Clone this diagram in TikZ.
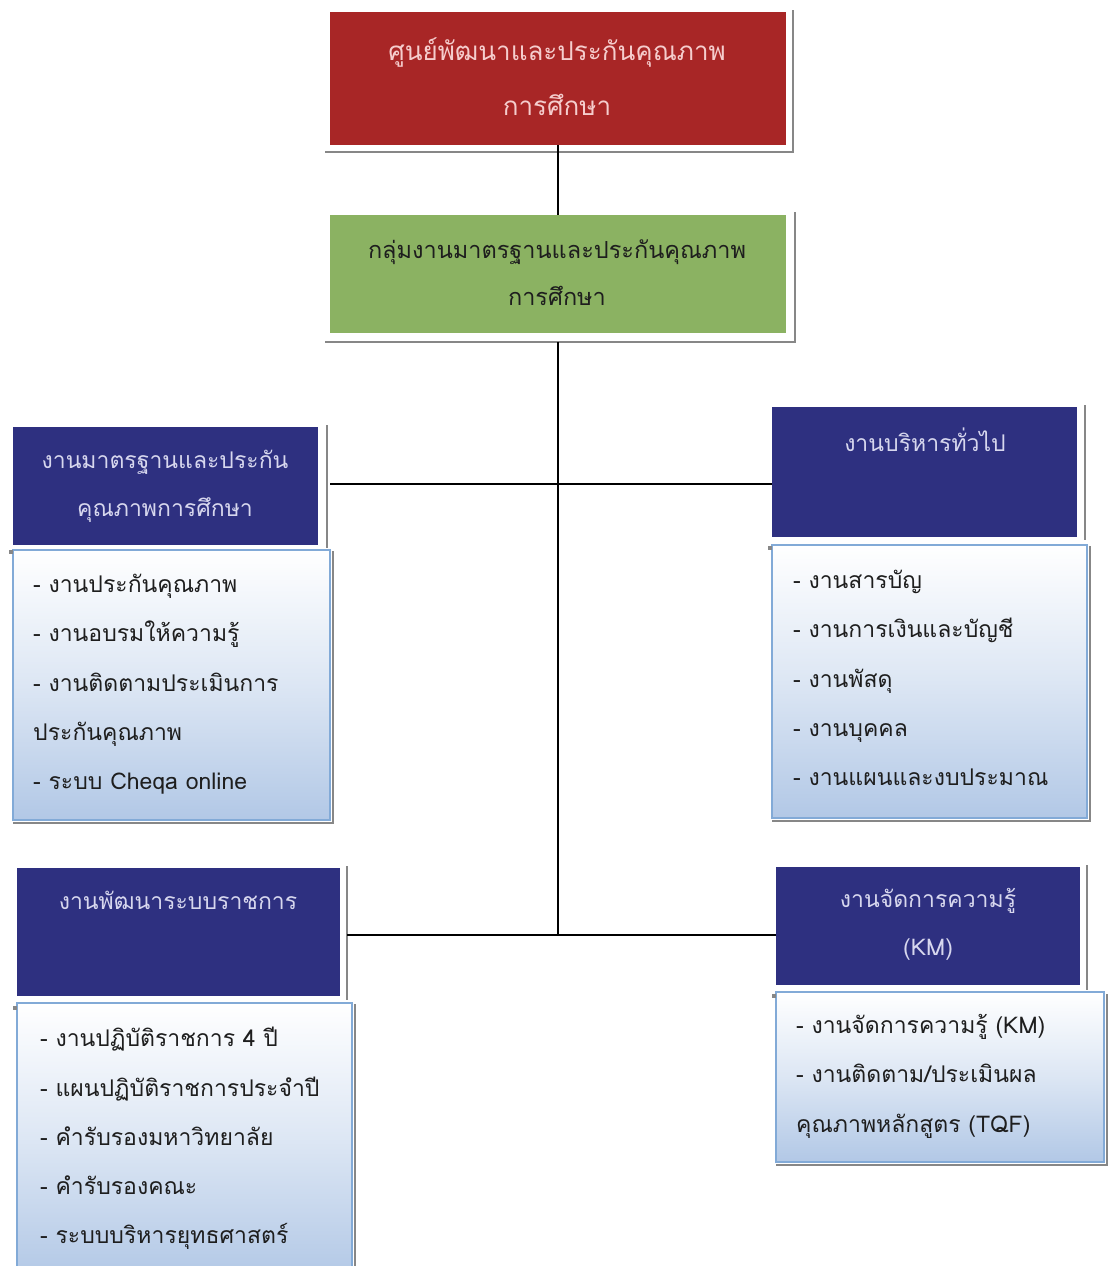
\documentclass[tikz,border=0pt]{standalone}
\usepackage{fontspec}
\newfontfamily\thaifont[Script=Thai]{Loma}
\definecolor{redbox}{RGB}{168,38,38}
\definecolor{greenbox}{RGB}{139,178,98}
\definecolor{navy}{RGB}{46,48,128}
\definecolor{lightblue}{RGB}{178,200,230}
\definecolor{bordblue}{RGB}{130,170,215}
\definecolor{shadowgray}{RGB}{135,135,135}
\definecolor{headtext}{RGB}{215,215,238}
\definecolor{redtext}{RGB}{245,205,205}
\definecolor{bodytext}{RGB}{30,30,30}
\tikzset{
  box/.style={anchor=north west, inner sep=0pt, outer sep=0pt},
  headbox/.style={box, fill=navy},
  bodybox/.style={box, draw=bordblue, line width=1.2pt, top color=white, bottom color=lightblue, middle color=white!55!lightblue},
  shadowline/.style={draw=shadowgray, line width=2.5pt},
  conn/.style={draw=black, line width=1.8pt},
  titletxt/.style={font=\thaifont\fontsize{26}{55}\selectfont, align=center, inner sep=0pt},
  headtxt/.style={font=\thaifont\fontsize{23}{48}\selectfont, align=center, inner sep=0pt, text=headtext},
  bodytxt/.style={font=\thaifont\fontsize{23}{49.3}\selectfont, align=left, inner sep=0pt, anchor=north west, text=bodytext},
  cornerdot/.style={fill=shadowgray, inner sep=0pt, minimum size=4pt}
}
\begin{document}
\begin{tikzpicture}[x=1pt,y=-1pt]
\useasboundingbox (0,0) rectangle (1108,1266);
\fill[white] (0,0) rectangle (1108,1266);

% top red box
\draw[shadowline] (325,152) -- (793,152) -- (793,10);
\node[box, fill=redbox, minimum width=456pt, minimum height=133pt] (top) at (330,12) {};
\node[titletxt, text=redtext] (toptxt) at (557,77) {ศูนย์พัฒนาและประกันคุณภาพ\\การศึกษา};

% green box
\draw[shadowline] (325,342) -- (795,342) -- (795,212);
\node[box, fill=greenbox, minimum width=456pt, minimum height=118pt] (grp) at (330,215) {};
\node[titletxt, text=bodytext, font=\thaifont\fontsize{23.5}{47}\selectfont] (grptxt) at (557,273) {กลุ่มงานมาตรฐานและประกันคุณภาพ\\การศึกษา};

% connectors
\coordinate (j1) at (558,484);
\coordinate (j2) at (558,935);
\draw[conn] (top.south) -- (grp.north);
\draw[conn] ([yshift=-9pt]grp.south) -- (j2);

% left group 1
\draw[shadowline] (327,425) -- (327,548);
\node[headbox, minimum width=305pt, minimum height=118pt] (lh1) at (13,427) {};
\node[headtxt] (lh1txt) at (165,486) {งานมาตรฐานและประกัน\\คุณภาพการศึกษา};
\draw[shadowline] (13,823) -- (333,823) -- (333,551);
\node[bodybox, minimum width=317pt, minimum height=270pt] (lb1) at (13,550) {};
\node[cornerdot] (d1) at (11,552) {};
\node[bodytxt] (lb1txt) at (33,574) {- งานประกันคุณภาพ\\- งานอบรมให้ความรู้\\- งานติดตามประเมินการ\\ประกันคุณภาพ\\- ระบบ Cheqa online};

% right group 1
\draw[shadowline] (1085,405) -- (1085,540);
\node[headbox, minimum width=305pt, minimum height=130pt] (rh1) at (772,407) {};
\node[headtxt] (rh1txt) at (925,440) {งานบริหารทั่วไป};
\draw[shadowline] (772,821) -- (1090,821) -- (1090,546);
\node[bodybox, minimum width=315pt, minimum height=273pt] (rb1) at (772,545) {};
\node[cornerdot] (d2) at (770,548) {};
\node[bodytxt] (rb1txt) at (793,570) {- งานสารบัญ\\- งานการเงินและบัญชี\\- งานพัสดุ\\- งานบุคคล\\- งานแผนและงบประมาณ};

\draw[conn] ([xshift=12pt]lh1.east |- j1) -- (rh1.west |- j1);

% left group 2
\draw[shadowline] (347,866) -- (347,1000);
\node[headbox, minimum width=323pt, minimum height=128pt] (lh2) at (17,868) {};
\node[headtxt] (lh2txt) at (178,900) {งานพัฒนาระบบราชการ};
\draw[shadowline] (355,1004) -- (355,1266);
\node[bodybox, minimum width=335pt, minimum height=275pt] (lb2) at (17,1003) {};
\node[cornerdot] (d3) at (15,1008) {};
\node[bodytxt] (lb2txt) at (40,1027) {- งานปฏิบัติราชการ 4 ปี\\- แผนปฏิบัติราชการประจำปี\\- คำรับรองมหาวิทยาลัย\\- คำรับรองคณะ\\- ระบบบริหารยุทธศาสตร์};

% right group 2
\draw[shadowline] (1087,865) -- (1087,990);
\node[headbox, minimum width=304pt, minimum height=118pt] (rh2) at (776,867) {};
\node[headtxt] (rh2txt) at (928,924) {งานจัดการความรู้\\(KM)};
\draw[shadowline] (776,1165) -- (1107,1165) -- (1107,994);
\node[bodybox, minimum width=328pt, minimum height=170pt] (rb2) at (776,992) {};
\node[cornerdot] (d4) at (774,996) {};
\node[bodytxt] (rb2txt) at (796,1014) {- งานจัดการความรู้ (KM)\\- งานติดตาม/ประเมินผล\\คุณภาพหลักสูตร (TQF)};

\draw[conn] ([xshift=7pt]lh2.east |- j2) -- (rh2.west |- j2);
\end{tikzpicture}
\end{document}
